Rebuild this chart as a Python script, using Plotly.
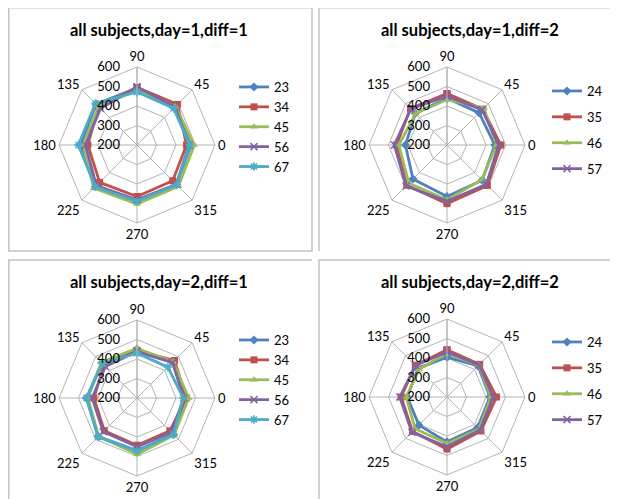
import plotly.graph_objects as go

OFF = 8  # page body margin
W, H = 610, 491

categories = ["90", "45", "0", "315", "270", "225", "180", "135"]
radial_ticks = [200, 300, 400, 500, 600]

titles = ["all subjects,day=1,diff=1", "all subjects,day=1,diff=2",
          "all subjects,day=2,diff=1", "all subjects,day=2,diff=2"]

names_diff1 = ["23", "34", "45", "56", "67"]
names_diff2 = ["24", "35", "46", "57"]

# day=1, diff=1
d1f1_23 = [490, 470, 476, 488, 489, 500, 489, 497]
d1f1_34 = [495, 494, 454, 459, 464, 471, 452, 480]
d1f1_45 = [481, 480, 493, 500, 503, 513, 476, 479]
d1f1_56 = [498, 475, 467, 485, 481, 495, 464, 465]
d1f1_67 = [472, 466, 470, 488, 489, 503, 501, 501]

# day=1, diff=2
d1f2_24 = [440, 433, 445, 455, 464, 447, 413, 430]
d1f2_35 = [464, 460, 476, 493, 501, 492, 459, 465]
d1f2_46 = [433, 467, 454, 452, 481, 477, 447, 428]
d1f2_57 = [450, 455, 465, 485, 489, 497, 470, 462]

# day=2, diff=1
d2f1_23 = [450, 460, 449, 464, 470, 480, 459, 455]
d2f1_34 = [442, 472, 453, 438, 442, 437, 421, 440]
d2f1_45 = [455, 462, 465, 469, 489, 478, 452, 459]
d2f1_56 = [438, 457, 440, 450, 450, 445, 430, 429]
d2f1_67 = [430, 424, 437, 464, 472, 483, 459, 450]

# day=2, diff=2
d2f2_24 = [404, 425, 420, 422, 430, 404, 404, 410]
d2f2_35 = [442, 437, 454, 446, 467, 450, 435, 430]
d2f2_46 = [423, 430, 425, 432, 438, 431, 409, 402]
d2f2_57 = [431, 432, 437, 440, 455, 455, 442, 428]

colors5 = ["#4F81BD", "#C0504D", "#9BBB59", "#8064A2", "#4BACC6"]
symbols5 = ["diamond", "square", "triangle-up", "x-thin-open", "asterisk-open"]

panels = [
    (names_diff1, [d1f1_23, d1f1_34, d1f1_45, d1f1_56, d1f1_67]),
    (names_diff2, [d1f2_24, d1f2_35, d1f2_46, d1f2_57]),
    (names_diff1, [d2f1_23, d2f1_34, d2f1_45, d2f1_56, d2f1_67]),
    (names_diff2, [d2f2_24, d2f2_35, d2f2_46, d2f2_57]),
]

# pixel layout (window coordinates)
centers = [(137, 145), (447, 145), (137, 398), (447, 397)]
R = 78
title_pos = [(159, 30), (470, 30), (159, 282), (470, 282)]
legend_pos = [(234, 72), (547, 76), (234, 325), (547, 327)]
# panel frames: left, top, right, bottom, closed?
frames = [(8.8, 7.8, 312, 251, True), (319, 7.8, 617.9, 251, False),
          (8.8, 260, 312, 498.9, False), (319, 260, 617.9, 498.9, False)]

FONT = "Lato, Carlito, Calibri, sans-serif"
grid = "#B4B4B4"
frame_color = "#C4C4C4"

def px(x):
    return (x - OFF) / W

def py(y):
    return 1 - (y - OFF) / H

fig = go.Figure()
layout = dict(width=W, height=H, margin=dict(l=0, r=0, t=0, b=0),
              paper_bgcolor="white", plot_bgcolor="white",
              font=dict(family=FONT, size=13, color="#000000"),
              shapes=[], annotations=[])

for i, (names, series) in enumerate(panels):
    pk = "polar" if i == 0 else f"polar{i+1}"
    lk = "legend" if i == 0 else f"legend{i+1}"
    for j, (nm, vals) in enumerate(zip(names, series)):
        c = colors5[j]
        sym = symbols5[j]
        open_sym = sym.endswith("open")
        fig.add_trace(go.Scatterpolar(
            r=vals + [vals[0]], theta=categories + [categories[0]],
            mode="lines+markers", name=nm, subplot=pk, legend=lk,
            legendgroup=f"{i}-{j}",
            line=dict(color=c, width=2.8),
            marker=dict(symbol=sym, size=7,
                        color=c, line=dict(color=c, width=1.5 if open_sym else 0)),
        ))
    cx, cy = centers[i]
    layout[pk] = dict(
        domain=dict(x=[px(cx - R), px(cx + R)], y=[py(cy + R), py(cy - R)]),
        bgcolor="white", gridshape="linear",
        angularaxis=dict(type="category", categoryarray=categories, rotation=90,
                         direction="clockwise", showline=True, linecolor=grid,
                         linewidth=1, gridcolor=grid, gridwidth=1, ticks="",
                         tickfont=dict(size=13, family=FONT)),
        radialaxis=dict(range=[200, 600], tickvals=radial_ticks, angle=90,
                        tickangle=90, showline=True, linecolor=grid, linewidth=1,
                        gridcolor=grid, gridwidth=1, ticks="outside", ticklen=12,
                        tickcolor="rgba(0,0,0,0)", side="counterclockwise",
                        tickfont=dict(size=13, family=FONT)),
    )
    lx, ly = legend_pos[i]
    layout[lk] = dict(x=px(lx), y=py(ly), xanchor="left", yanchor="top",
                      bgcolor="rgba(0,0,0,0)", font=dict(size=13, family=FONT),
                      tracegroupgap=0 if len(names) == 5 else 6,
                      itemwidth=30)
    tx, ty = title_pos[i]
    layout["annotations"].append(dict(
        text=f"<b>{titles[i]}</b>", x=px(tx), y=py(ty), xref="paper", yref="paper",
        xanchor="center", yanchor="middle", showarrow=False,
        font=dict(size=16.5, family=FONT, color="#000000")))
    x0, y0, x1, y1, closed = frames[i]
    if closed:
        path = (f"M{px(x0)},{py(y0)} L{px(x1)},{py(y0)} L{px(x1)},{py(y1)} "
                f"L{px(x0)},{py(y1)} Z")
    else:
        path = f"M{px(x1)},{py(y0)} L{px(x0)},{py(y0)} L{px(x0)},{py(y1)}"
    layout["shapes"].append(dict(type="path", xref="paper", yref="paper", path=path,
                                 line=dict(color=frame_color, width=1.5)))

fig.update_layout(**layout)
fig.write_html("out.html")
